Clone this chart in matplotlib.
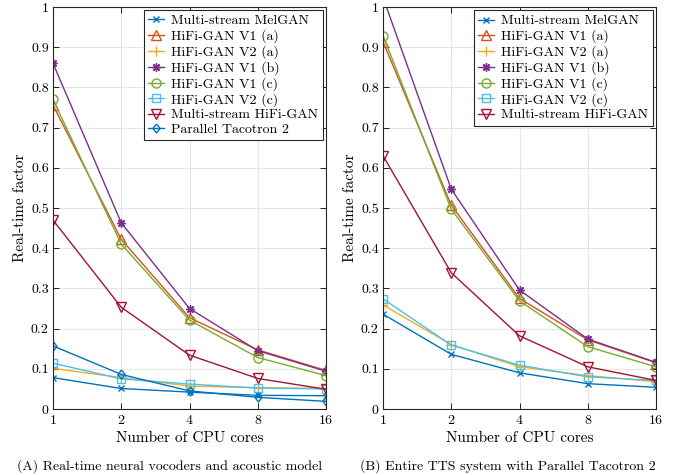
import matplotlib
matplotlib.use("Agg")
import matplotlib.pyplot as plt

plt.rcParams['font.family'] = ['cmr10', 'DejaVu Serif']
plt.rcParams['mathtext.fontset'] = 'cm'
plt.rcParams['axes.formatter.use_mathtext'] = True

cores = [1, 2, 4, 8, 16]
tick_labels = ['1', '2', '4', '8', '16']

labels = ['Multi-stream MelGAN', 'HiFi-GAN V1 (a)', 'HiFi-GAN V2 (a)', 'HiFi-GAN V1 (b)',
          'HiFi-GAN V1 (c)', 'HiFi-GAN V2 (c)', 'Multi-stream HiFi-GAN', 'Parallel Tacotron 2']

# Panel A: real-time neural vocoders and acoustic model
a_melgan = [0.078, 0.051, 0.042, 0.034, 0.033]
a_v1a = [0.756, 0.422, 0.227, 0.147, 0.096]
a_v2a = [0.101, 0.078, 0.057, 0.053, 0.051]
a_v1b = [0.86, 0.463, 0.25, 0.145, 0.094]
a_v1c = [0.77, 0.41, 0.221, 0.128, 0.083]
a_v2c = [0.114, 0.075, 0.062, 0.052, 0.05]
a_mshifi = [0.47, 0.253, 0.134, 0.076, 0.049]
a_pt2 = [0.157, 0.086, 0.045, 0.029, 0.019]

# Panel B: entire TTS system with Parallel Tacotron 2
b_melgan = [0.236, 0.136, 0.090, 0.063, 0.054]
b_v1a = [0.914, 0.507, 0.275, 0.172, 0.115]
b_v2a = [0.259, 0.16, 0.105, 0.083, 0.068]
b_v1b = [1.024, 0.547, 0.296, 0.174, 0.116]
b_v1c = [0.929, 0.497, 0.269, 0.155, 0.105]
b_v2c = [0.274, 0.159, 0.109, 0.080, 0.071]
b_mshifi = [0.63, 0.339, 0.182, 0.105, 0.071]

colors = ['#0072BD', '#D95319', '#EDB120', '#7E2F8E', '#77AC30', '#4DBEEE', '#A2142F', '#0072BD']
diamond = [(0, 1), (0.78, 0), (0, -1), (-0.78, 0), (0, 1)]
markers = ['x', '^', '+', (8, 2, 0), 'o', 's', 'v', diamond]
msizes = [5, 6.5, 7, 6, 6.5, 5.5, 6.5, 6.5]
filled_flags = [True, False, True, True, False, False, False, False]

fig = plt.figure(figsize=(6.77, 4.75), dpi=100)
ax1 = fig.add_axes([53/677, 1 - 409/475, 273/677, 402/475])
ax2 = fig.add_axes([383/677, 1 - 409/475, 273/677, 402/475])

series_a = [a_melgan, a_v1a, a_v2a, a_v1b, a_v1c, a_v2c, a_mshifi, a_pt2]
series_b = [b_melgan, b_v1a, b_v2a, b_v1b, b_v1c, b_v2c, b_mshifi]

for ax, series in [(ax1, series_a), (ax2, series_b)]:
    for i, vals in enumerate(series):
        ax.plot(cores, vals, color=colors[i], marker=markers[i], lw=1.0,
                ms=msizes[i], mfc=colors[i] if filled_flags[i] else 'none',
                mec=colors[i], mew=1.0, label=labels[i], clip_on=True)
    ax.set_xscale('log', base=2)
    ax.set_xlim(1, 16)
    ax.set_ylim(0, 1)
    ax.set_xticks(cores)
    ax.set_xticklabels(tick_labels)
    ax.minorticks_off()
    ax.set_yticks([0, 0.1, 0.2, 0.3, 0.4, 0.5, 0.6, 0.7, 0.8, 0.9, 1])
    ax.set_yticklabels(['0', '0.1', '0.2', '0.3', '0.4', '0.5', '0.6', '0.7', '0.8', '0.9', '1'])
    ax.grid(True, color='#e6e6e6', lw=0.8)
    ax.set_axisbelow(True)
    ax.tick_params(direction='in', top=True, right=True, labelsize=10, length=4, width=0.6)
    ax.tick_params(axis='x', pad=4.5)
    ax.tick_params(axis='y', pad=3)
    for s in ax.spines.values():
        s.set_linewidth(0.8)
        s.set_color('#262626')
    ax.set_xlabel('Number of CPU cores', fontsize=11, labelpad=2.5)
    ax.set_ylabel('Real-time factor', fontsize=11, labelpad=3.2)
    leg = ax.legend(loc='upper right', fontsize=10, frameon=True, fancybox=False,
                    edgecolor='#262626', framealpha=1, borderpad=0.3, labelspacing=0.15,
                    handlelength=1.15, handletextpad=0.5, borderaxespad=0.25)
    leg.get_frame().set_linewidth(0.8)

fig.text(170/677, 1 - 466/475, '(A) Real-time neural vocoders and acoustic model',
         ha='center', va='center', fontsize=10)
fig.text(508/677, 1 - 466/475, '(B) Entire TTS system with Parallel Tacotron 2',
         ha='center', va='center', fontsize=10)

fig.savefig('out.png', dpi=100)
